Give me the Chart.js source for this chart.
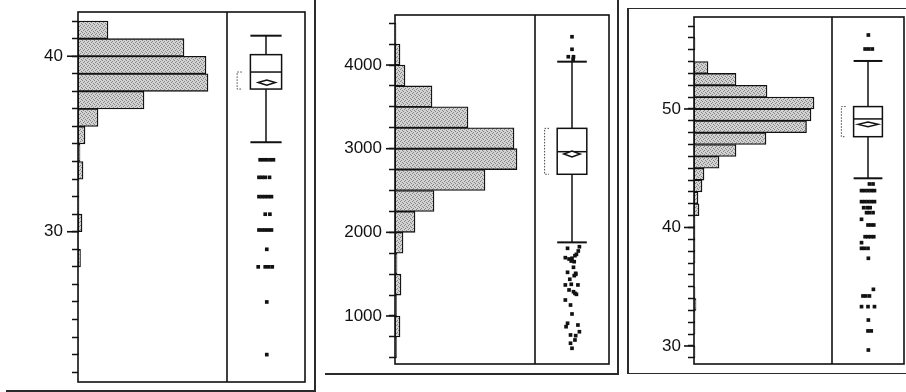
<!DOCTYPE html>
<html lang="en">
<head>
  <meta charset="UTF-8">
  <title>Distributions</title>
  <style>
    html, body { margin: 0; padding: 0; background: #fff; }
    body { width: 906px; height: 392px; position: relative; overflow: hidden; }
    canvas { position: absolute; }
    .ln { position: absolute; background: #2b2b2b; }
  </style>
</head>
<body>
  <!-- report frame lines -->
  <div class="ln" style="left:314px;top:0;width:2px;height:390px"></div>
  <div class="ln" style="left:6px;top:390px;width:310px;height:1.5px"></div>
  <div class="ln" style="left:325px;top:373px;width:294px;height:1.5px"></div>
  <div class="ln" style="left:617px;top:0;width:2px;height:373px"></div>
  <div class="ln" style="left:627px;top:7.5px;width:1.5px;height:366px"></div>
  <div class="ln" style="left:627px;top:7.5px;width:290px;height:1.5px"></div>
  <div class="ln" style="left:627px;top:372.5px;width:290px;height:1.5px"></div>

  <canvas id="c1" style="left:18px;top:8px" width="291" height="378"></canvas>
  <canvas id="c2" style="left:335px;top:11px" width="278" height="357"></canvas>
  <canvas id="c3" style="left:634px;top:13px" width="274" height="355"></canvas>

  <script src="https://cdn.jsdelivr.net/npm/chart.js"></script>
  <script>
    // ---- panel 1 ----
    const bins1 = [22, 23, 24, 25, 26, 27, 28, 29, 30, 31, 32, 33, 34, 35, 36, 37, 38, 39, 40, 41];
    const counts1 = [0, 1, 0, 0, 1, 0, 5, 1, 8, 2, 2, 10, 4, 14, 40, 132, 260, 256, 212, 60];
    const box1 = [35.1, 38.13, 39.1, 40.09, 41.17]; // lo whisker, Q1, median, Q3, hi whisker
    const mean1 = [38.5, 0.15];                   // mean, half CI
    const shortest1 = [38.13, 39.1];
    const outV1 = [34.1, 34.1, 34.1, 34.1, 34.1, 33.1, 33.1, 33.1, 33.1, 32.0, 32.0, 32.0, 32.0, 32.0,
                   31.0, 31.0, 30.1, 30.1, 30.1, 30.1, 30.1, 29.0, 28.0, 28.0, 28.0, 28.0, 26.0, 23.0];
    const outU1 = [0.425, 0.467, 0.511, 0.553, 0.595, 0.41, 0.45, 0.49, 0.545, 0.41, 0.45, 0.49, 0.53, 0.57,
                   0.49, 0.55, 0.41, 0.45, 0.49, 0.53, 0.57, 0.51, 0.40, 0.49, 0.535, 0.58, 0.51, 0.51];
    const ticks1 = [30, 40];

    // ---- panel 2 ----
    const bins2 = [500, 750, 1000, 1250, 1500, 1750, 2000, 2250, 2500, 2750, 3000, 3250, 3500, 3750, 4000, 4250];
    const counts2 = [3, 10, 3, 12, 4, 16, 40, 78, 180, 244, 238, 146, 74, 20, 10, 2];
    const box2 = [1880, 2694, 2964, 3243, 4040];
    const mean2 = [2936, 35];
    const shortest2 = [2694, 3243];
    const outV2 = [4338, 4188, 4099, 4099, 4068,
                   1809, 1828, 1777, 1697, 1681, 1690, 1721, 1737, 1657, 1649, 1582, 1522, 1510, 1498, 1482,
                   1439, 1371, 1379, 1371, 1311, 1290, 1271, 1259, 1191, 1131, 1024, 913, 872, 892, 812,
                   773, 765, 713, 674, 614];
    const outU2 = [0.5, 0.5, 0.45, 0.52, 0.515,
                   0.44, 0.60, 0.585, 0.41, 0.46, 0.50, 0.54, 0.56, 0.49, 0.53, 0.52, 0.44, 0.55, 0.55, 0.53,
                   0.47, 0.41, 0.49, 0.58, 0.46, 0.52, 0.54, 0.56, 0.41, 0.48, 0.50, 0.44, 0.42, 0.58, 0.60,
                   0.48, 0.55, 0.54, 0.48, 0.50];
    const ticks2 = [1000, 2000, 3000, 4000];

    // ---- panel 3 ----
    const bins3 = [29, 30, 31, 32, 33, 34, 35, 36, 37, 38, 39, 40, 41, 42, 43, 44, 45, 46, 47, 48, 49, 50, 51, 52, 53, 54, 55, 56];
    const counts3 = [2, 0, 2, 2, 4, 2, 0, 0, 2, 2, 2, 2, 10, 8, 16, 20, 50, 84, 144, 225, 234, 240, 146, 84, 28, 0, 2, 1];
    const box3 = [44.15, 47.66, 49.16, 50.2, 54.05];
    const mean3 = [48.7, 0.2];
    const shortest3 = [47.66, 50.2];
    const outV3 = [56.24, 55.06, 55.06, 55.06,
                   43.67, 43.67, 43.11, 43.11, 43.11, 43.11, 43.11, 42.18, 42.18, 42.18, 42.18, 42.18,
                   41.67, 41.67, 41.67, 41.25, 41.25, 41.25, 40.69, 40.21, 40.21, 40.21,
                   39.22, 39.22, 39.22, 39.22, 38.72, 38.24, 38.24, 38.24, 37.40,
                   34.78, 34.22, 34.22, 34.22, 33.32, 33.32, 33.32, 32.19, 31.27, 31.27, 29.66];
    const outU3 = [0.505, 0.46, 0.51, 0.56,
                   0.52, 0.57, 0.41, 0.455, 0.50, 0.545, 0.59, 0.41, 0.455, 0.50, 0.545, 0.59,
                   0.44, 0.49, 0.53, 0.48, 0.52, 0.57, 0.41, 0.50, 0.54, 0.58,
                   0.46, 0.50, 0.54, 0.58, 0.41, 0.41, 0.45, 0.50, 0.505,
                   0.575, 0.43, 0.47, 0.52, 0.41, 0.50, 0.59, 0.505, 0.50, 0.545, 0.505];
    const ticks3 = [30, 40, 50];

    function stipple(ctx) {
      const c = document.createElement('canvas');
      c.width = 4; c.height = 4;
      const g = c.getContext('2d');
      g.fillStyle = '#d2d2d2';
      g.fillRect(0, 0, 4, 4);
      g.fillStyle = '#868686';
      [[0, 0], [2, 1], [1, 2], [3, 3]].forEach(([x, y]) => g.fillRect(x, y, 1, 1));
      return ctx.createPattern(c, 'repeat');
    }

    // frame, longer major ticks, box plot, mean diamond and shortest-half bracket
    const jmpPlot = {
      id: 'jmpPlot',
      afterDraw(chart, args, o) {
        const { ctx, chartArea: a, scales: { y, xb } } = chart;
        const X = u => xb.getPixelForValue(u);
        const Y = v => y.getPixelForValue(v);
        const line = (x1, y1, x2, y2) => { ctx.beginPath(); ctx.moveTo(x1, y1); ctx.lineTo(x2, y2); ctx.stroke(); };
        ctx.save();
        ctx.strokeStyle = '#111';
        ctx.lineWidth = 1.6;
        ctx.strokeRect(a.left, a.top, a.right - a.left, a.bottom - a.top);
        line(xb.left, a.top, xb.left, a.bottom);
        o.labels.forEach(v => line(a.left - o.majorLen, Y(v), a.left, Y(v)));

        const [lo, q1, med, q3, hi] = o.box;
        const bl = X(0.5 - o.half), br = X(0.5 + o.half), cx = X(0.5);
        ctx.lineWidth = 1.5;
        line(cx, Y(hi), cx, Y(q3));
        line(cx, Y(q1), cx, Y(lo));
        ctx.strokeRect(bl, Y(q3), br - bl, Y(q1) - Y(q3));
        line(bl, Y(med), br, Y(med));
        ctx.lineWidth = 2;
        line(bl, Y(hi), br, Y(hi));
        line(bl, Y(lo), br, Y(lo));

        const [m, ci] = o.mean;
        const dc = X(o.diamond[0]), dw = X(o.diamond[0] + o.diamond[1]) - dc;
        ctx.lineWidth = 1.5;
        ctx.beginPath();
        ctx.moveTo(dc - dw, Y(m));
        ctx.lineTo(dc, Y(m + ci));
        ctx.lineTo(dc + dw, Y(m));
        ctx.lineTo(dc, Y(m - ci));
        ctx.closePath();
        ctx.fillStyle = '#fff';
        ctx.fill();
        ctx.stroke();

        const [s0, s1] = o.shortest;
        ctx.strokeStyle = '#444';
        ctx.lineWidth = 1;
        ctx.setLineDash([1.5, 1.5]);
        ctx.beginPath();
        ctx.moveTo(X(0.19), Y(s1));
        ctx.lineTo(X(0.13), Y(s1));
        ctx.lineTo(X(0.13), Y(s0));
        ctx.lineTo(X(0.19), Y(s0));
        ctx.stroke();
        ctx.restore();
      }
    };

    function makeChart(id, p) {
      const ctx = document.getElementById(id).getContext('2d');
      return new Chart(ctx, {
        type: 'bar',
        data: {
          datasets: [{
            type: 'bar',
            indexAxis: 'y',
            grouped: false,
            xAxisID: 'x',
            yAxisID: 'y',
            data: p.bins.map((b, i) => ({ x: p.counts[i], y: b + p.binWidth / 2 })),
            backgroundColor: stipple(ctx),
            borderColor: '#111',
            borderWidth: 1.3,
            borderSkipped: false,
            barPercentage: 1,
            categoryPercentage: 1
          }, {
            type: 'scatter',
            xAxisID: 'xb',
            yAxisID: 'y',
            data: p.outV.map((v, i) => ({ x: p.outU[i], y: v })),
            pointStyle: 'rect',
            pointRadius: 2.6,
            pointBorderWidth: 0,
            pointBackgroundColor: '#111'
          }]
        },
        options: {
          responsive: false,
          animation: false,
          layout: { padding: { left: 0, top: 4, right: 4, bottom: 4 } },
          plugins: {
            legend: { display: false },
            tooltip: { enabled: false },
            jmpPlot: {
              labels: p.ticks, majorLen: p.majorLen, box: p.box, half: 0.2,
              mean: p.mean, diamond: p.diamond, shortest: p.shortest
            }
          },
          scales: {
            x: {
              type: 'linear', display: false, offset: false, grid: { offset: false },
              stack: 'h', stackWeight: p.weights[0], min: 0, max: p.xMax
            },
            xb: {
              type: 'linear', axis: 'x', position: 'bottom', display: false,
              offset: false, grid: { offset: false },
              stack: 'h', stackWeight: p.weights[1], min: 0, max: 1
            },
            y: {
              type: 'linear', position: 'left', offset: false,
              min: p.yRange[0], max: p.yRange[1],
              grid: { offset: false, drawOnChartArea: false, tickLength: 6, tickWidth: 1.5, tickColor: '#111' },
              border: { display: false },
              afterBuildTicks: scale => {
                const t = [];
                for (let v = Math.ceil(scale.min / p.step) * p.step; v <= scale.max; v += p.step) t.push({ value: v });
                scale.ticks = t;
              },
              afterFit: scale => {
                scale.width = 60;
                scale.paddingTop = 0;
                scale.paddingBottom = 0;
              },
              ticks: {
                autoSkip: false,
                padding: p.labelPad,
                color: '#111',
                font: { family: '"Liberation Sans", Arial, sans-serif', size: 17 },
                callback: v => p.ticks.includes(v) ? String(v) : ''
              }
            }
          }
        },
        plugins: [jmpPlot]
      });
    }

    makeChart('c1', {
      bins: bins1, counts: counts1, binWidth: 1, xMax: 298, weights: [149, 78],
      yRange: [21.44, 42.52], step: 1, ticks: ticks1, majorLen: 11, labelPad: 9,
      box: box1, mean: mean1, diamond: [0.51, 0.11], shortest: shortest1, outV: outV1, outU: outU1
    });
    makeChart('c2', {
      bins: bins2, counts: counts2, binWidth: 250, xMax: 280, weights: [140, 74],
      yRange: [426, 4598], step: 250, ticks: ticks2, majorLen: 9, labelPad: 7,
      box: box2, mean: mean2, diamond: [0.5, 0.11], shortest: shortest2, outV: outV2, outU: outU2
    });
    makeChart('c3', {
      bins: bins3, counts: counts3, binWidth: 1, xMax: 276, weights: [138, 72],
      yRange: [28.48, 57.76], step: 1, ticks: ticks3, majorLen: 10, labelPad: 7,
      box: box3, mean: mean3, diamond: [0.5, 0.14], shortest: shortest3, outV: outV3, outU: outU3
    });
  </script>
</body>
</html>
